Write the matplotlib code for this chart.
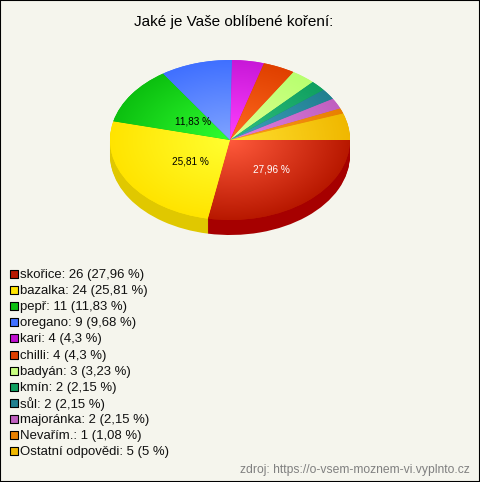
import numpy as np
import matplotlib
matplotlib.use('Agg')
import matplotlib.pyplot as plt
from matplotlib.colors import LinearSegmentedColormap

plt.rcParams['font.family'] = ['Liberation Sans', 'DejaVu Sans']

title = 'Jaké je Vaše oblíbené koření:'
names = ['skořice', 'bazalka', 'pepř', 'oregano', 'kari', 'chilli', 'badyán',
         'kmín', 'sůl', 'majoránka', 'Nevařím.', 'Ostatní odpovědi']
counts = [26, 24, 11, 9, 4, 4, 3, 2, 2, 2, 1, 5]
percents = ['27,96', '25,81', '11,83', '9,68', '4,3', '4,3', '3,23',
            '2,15', '2,15', '2,15', '1,08', '5']
source = 'zdroj: https://o-vsem-moznem-vi.vyplnto.cz'

# barvy: stred vysece, okraj vysece, bok, legenda
inner = ['#ff5a3c', '#ffff30', '#30ff30', '#80a4ff', '#ff40ff', '#ff6a20',
         '#e0ff90', '#30c080', '#40a0c0', '#e080e0', '#ff9a20', '#ffe030']
outer = ['#b81800', '#ffe400', '#0cc010', '#4070ff', '#c818d8', '#e04000',
         '#b8ff70', '#10a060', '#208090', '#c060c0', '#e88000', '#f0b800']
side = ['#a60000', '#e0c800', '#0a9a0c', '#3058cc', '#a010b0', '#b03000',
        '#90cc58', '#0c8048', '#186870', '#985098', '#b86000', '#c09000']
legend_col = ['#b81800', '#ffe400', '#0cc010', '#4070ff', '#c010d0', '#e04000',
              '#c8ff80', '#10a060', '#208090', '#c060c0', '#e88000', '#f0b800']

W, H = 480, 482
BG = '#f5f5ed'
fig = plt.figure(figsize=(W / 100, H / 100), dpi=100, facecolor=BG)

# elipsa kolace: stred (230, 140), poloosy 120 x 80 px
cx, cy, rx, ry = 230, 140, 120, 80
depth = 15
ax = fig.add_axes([(cx - rx) / W, 1 - (cy + ry + depth) / H, 2 * rx / W, (2 * ry + depth) / H])

# bok kolace
for k in range(depth, 0, -1):
    ax.pie(counts, colors=side, startangle=0, counterclock=False, radius=1,
           center=(0, -k / ry), wedgeprops={'linewidth': 0})

wedges, _ = ax.pie(counts, colors=outer, startangle=0, counterclock=False, radius=1,
                   center=(0, 0), wedgeprops={'linewidth': 0})

ax.set_aspect('auto')
ax.set_xlim(-1, 1)
ax.set_ylim(-1 - depth / ry, 1)

# radialni prechod v kazde vyseci
gx, gy = np.meshgrid(np.linspace(-1, 1, 300), np.linspace(-1, 1, 300))
dist = np.clip(np.hypot(gx, gy), 0, 1)
for w, c_in, c_out in zip(wedges, inner, outer):
    cmap = LinearSegmentedColormap.from_list('g', [c_in, c_out])
    im = ax.imshow(dist, extent=(-1, 1, -1, 1), origin='lower', cmap=cmap,
                   vmin=0, vmax=1, aspect='auto', zorder=3)
    im.set_clip_path(w)
ax.set_xlim(-1, 1)
ax.set_ylim(-1 - depth / ry, 1)

# prekryvna osa v pixelech pro texty a legendu
ov = fig.add_axes([0, 0, 1, 1], facecolor='none')
ov.set_xlim(0, W)
ov.set_ylim(H, 0)
ov.set_xticks([])
ov.set_yticks([])
for s in ov.spines.values():
    s.set_color('black')
    s.set_linewidth(1.5)

ov.text(234, 22, title, ha='center', va='center', fontsize=11, color='black')
ov.text(271.5, 170, percents[0] + ' %', ha='center', va='center', fontsize=7.2, color='white')
ov.text(190.5, 162, percents[1] + ' %', ha='center', va='center', fontsize=7.2, color='black')
ov.text(193, 121, percents[2] + ' %', ha='center', va='center', fontsize=7.2, color='black')

for i, (n, c, p, col) in enumerate(zip(names, counts, percents, legend_col)):
    y = 274 + i * 16.1
    ov.scatter([13.5], [y], marker='s', s=40, color=col, edgecolor='black', linewidth=0.8)
    ov.text(20, y + 1, f'{n}: {c} ({p} %)', ha='left', va='center', fontsize=9.45, color='#111111')

ov.text(470, 470, source, ha='right', va='center', fontsize=8.75, color='#808080')

fig.savefig('out.png', dpi=100, facecolor=BG)
